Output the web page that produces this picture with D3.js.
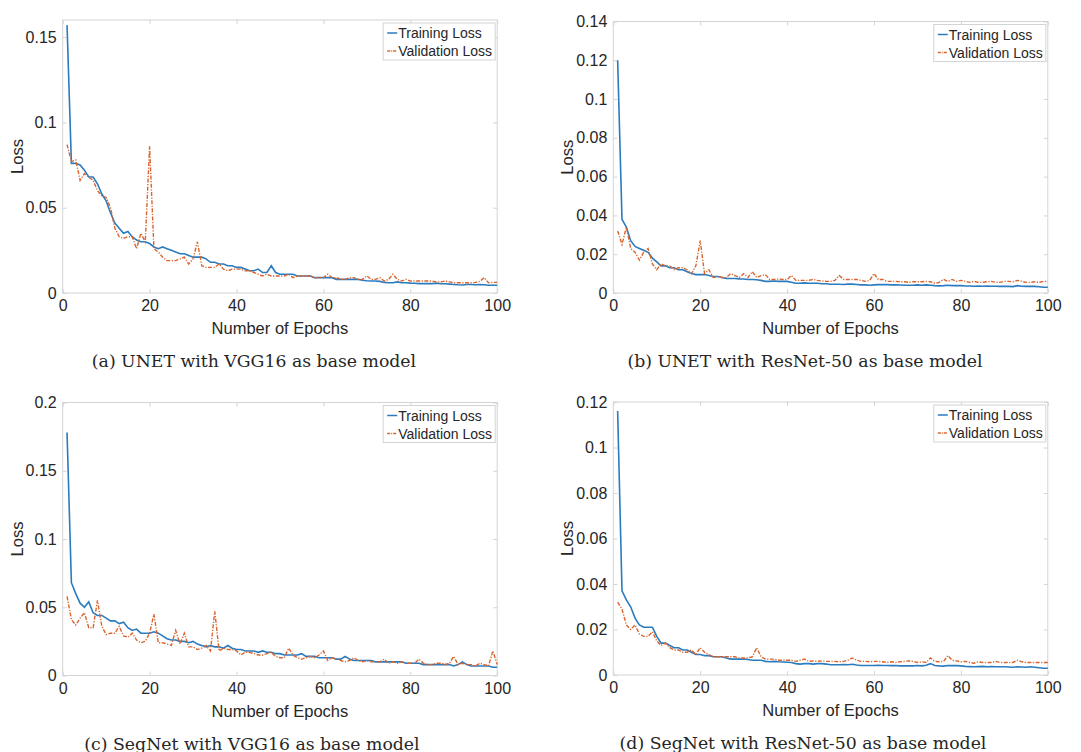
<!DOCTYPE html>
<html>
<head>
<meta charset="utf-8">
<script src="https://cdn.jsdelivr.net/npm/d3@7"></script>
<style>
  body { margin: 0; background: #fff; }
  svg { display: block; }
</style>
</head>
<body>
<script>
// four loss curves, 100 epochs each, MATLAB-ish look

const epochs = d3.range(1, 101);
const xTicks = [0, 20, 40, 60, 80, 100];
const seriesNames = ["Training Loss", "Validation Loss"];

// (a) UNET + VGG16
const trainA = [
  .157,.076,.076,.075,.072,.068,.068,.064,.058,.054,
  .047,.041,.038,.035,.036,.033,.031,.030,.030,.029,
  .027,.026,.027,.026,.025,.024,.023,.023,.022,.021,
  .021,.021,.020,.018,.018,.017,.017,.016,.016,.015,
  .015,.014,.013,.013,.014,.012,.012,.016,.012,.011,
  .011,.011,.011,.010,.010,.010,.010,.009,.009,.009,
  .009,.009,.008,.008,.008,.008,.008,.008,.0075,.0072,
  .007,.007,.0068,.0062,.006,.006,.0065,.006,.006,.0058,
  .0057,.0055,.0055,.0055,.0055,.0058,.0054,.0054,.0052,.005,
  .0048,.0047,.005,.005,.0048,.005,.0048,.0045,.0045,.0045
];
const valA = [
  .087,.077,.078,.066,.070,.068,.066,.060,.057,.056,
  .050,.038,.033,.032,.033,.033,.026,.035,.030,.086,
  .026,.024,.021,.019,.019,.019,.020,.021,.017,.020,
  .030,.016,.015,.015,.015,.017,.014,.013,.014,.014,
  .014,.013,.013,.012,.011,.010,.011,.010,.010,.010,
  .010,.011,.009,.010,.010,.010,.010,.009,.009,.009,
  .011,.009,.009,.008,.008,.009,.009,.008,.008,.010,
  .008,.008,.009,.007,.008,.011,.008,.007,.008,.007,
  .007,.007,.007,.007,.007,.0065,.0065,.007,.0065,.006,
  .006,.006,.006,.006,.0062,.0068,.009,.006,.0062,.0062
];

// (b) UNET + ResNet-50
const trainB = [
  .120,.038,.034,.027,.024,.023,.022,.021,.018,.016,
  .014,.014,.013,.013,.012,.012,.011,.010,.0095,.0095,
  .0095,.009,.0085,.0085,.008,.0075,.0075,.0075,.0073,.0072,
  .007,.007,.0068,.0065,.006,.006,.0062,.006,.006,.006,
  .0055,.005,.005,.0052,.005,.005,.005,.0048,.0048,.0045,
  .0045,.0045,.0044,.0046,.0046,.0044,.0042,.0042,.004,.0042,
  .0043,.0043,.0043,.0042,.0042,.0041,.004,.004,.004,.0042,
  .004,.0042,.004,.0038,.0037,.0038,.004,.0038,.0038,.0038,
  .0036,.0036,.0035,.0036,.0035,.0036,.0035,.0035,.0034,.0035,
  .0034,.0033,.0038,.0035,.0034,.0035,.0034,.0032,.003,.003
];
const valB = [
  .032,.025,.034,.023,.021,.017,.021,.023,.015,.012,
  .015,.014,.014,.012,.013,.013,.012,.010,.014,.027,
  .010,.012,.008,.0085,.008,.008,.010,.009,.008,.010,
  .008,.011,.008,.009,.0095,.007,.007,.0072,.007,.007,
  .009,.0065,.0065,.0065,.0065,.007,.0065,.0062,.006,.006,
  .0065,.009,.007,.007,.007,.007,.0065,.006,.0065,.010,
  .007,.007,.006,.006,.006,.0058,.0058,.0055,.0058,.0058,
  .0058,.006,.0058,.005,.0055,.007,.006,.007,.006,.0065,
  .006,.0055,.006,.0055,.0055,.0058,.006,.0055,.0055,.006,
  .006,.0058,.0065,.006,.0055,.0055,.0058,.0055,.006,.006
];

// (c) SegNet + VGG16
const trainC = [
  .178,.068,.060,.053,.050,.054,.046,.044,.044,.042,
  .040,.040,.038,.039,.035,.033,.034,.031,.031,.031,
  .032,.031,.029,.027,.026,.026,.025,.025,.024,.025,
  .023,.022,.021,.022,.021,.021,.020,.022,.020,.019,
  .019,.018,.018,.018,.017,.018,.017,.017,.016,.016,
  .015,.015,.015,.015,.016,.014,.014,.014,.013,.013,
  .013,.013,.012,.012,.014,.012,.011,.011,.011,.011,
  .011,.010,.010,.010,.010,.010,.010,.010,.009,.009,
  .009,.009,.008,.008,.008,.008,.008,.008,.008,.007,
  .008,.010,.008,.007,.007,.007,.007,.007,.006,.006
];
const valC = [
  .058,.041,.037,.042,.046,.035,.035,.055,.036,.030,
  .031,.031,.036,.029,.028,.031,.026,.024,.025,.031,
  .045,.024,.024,.023,.022,.033,.023,.031,.021,.021,
  .019,.020,.022,.018,.047,.018,.020,.019,.019,.018,
  .015,.017,.017,.016,.015,.015,.016,.017,.014,.013,
  .013,.020,.015,.013,.012,.013,.014,.013,.015,.018,
  .011,.013,.012,.011,.010,.011,.013,.011,.010,.011,
  .010,.010,.010,.012,.009,.010,.009,.010,.009,.009,
  .009,.012,.009,.008,.008,.009,.009,.008,.009,.014,
  .008,.009,.008,.008,.007,.009,.008,.007,.018,.008
];

// (d) SegNet + ResNet-50
const trainD = [
  .116,.037,.033,.030,.025,.022,.021,.021,.021,.017,
  .014,.014,.013,.012,.012,.011,.011,.010,.009,.009,
  .0085,.0085,.008,.008,.008,.0075,.007,.007,.007,.007,
  .0068,.0065,.0065,.0065,.006,.0058,.006,.0058,.0057,.0056,
  .0055,.005,.0048,.005,.005,.0048,.005,.005,.0048,.0045,
  .0045,.0045,.0046,.0045,.0047,.0044,.0042,.0042,.0042,.0042,
  .0043,.0042,.0042,.0041,.0042,.004,.004,.004,.004,.0042,
  .004,.0043,.005,.0042,.004,.0039,.0042,.0041,.0041,.004,
  .0038,.0037,.0036,.0037,.0038,.0036,.0037,.0036,.0036,.0036,
  .0035,.0034,.0036,.0035,.0034,.0036,.0034,.0032,.003,.003
];
const valD = [
  .032,.029,.022,.020,.022,.018,.017,.017,.019,.015,
  .013,.014,.012,.011,.011,.010,.010,.011,.009,.012,
  .010,.009,.008,.008,.008,.008,.008,.008,.0075,.0075,
  .0075,.008,.012,.008,.007,.007,.007,.0065,.0065,.0065,
  .0065,.006,.0065,.007,.006,.0062,.006,.0062,.006,.006,
  .006,.0058,.006,.0065,.0075,.0065,.006,.006,.0058,.006,
  .006,.0058,.0055,.0058,.0055,.0058,.006,.0062,.006,.0055,
  .0058,.0055,.0075,.006,.0058,.006,.0085,.0065,.0062,.0058,
  .006,.0055,.0052,.0058,.0055,.0055,.0055,.006,.0055,.0055,
  .0055,.0055,.0065,.0058,.0055,.0055,.0055,.0055,.0055,.0055
];

const yTicksA = [0, 0.05, 0.1, 0.15];
const yTicksB = [0, 0.02, 0.04, 0.06, 0.08, 0.1, 0.12, 0.14];
const yTicksC = [0, 0.05, 0.1, 0.15, 0.2];
const yTicksD = [0, 0.02, 0.04, 0.06, 0.08, 0.1, 0.12];

const captions = [
  "(a) UNET with VGG16 as base model",
  "(b) UNET with ResNet-50 as base model",
  "(c) SegNet with VGG16 as base model",
  "(d) SegNet with ResNet-50 as base model"
];

const blue = "#2b7bbf", orange = "#d9642e";
const boxColor = "#d4d4d4", textColor = "#262626";
const sans = "'Liberation Sans', Arial, Helvetica, sans-serif";

const svg = d3.select("body").append("svg")
    .attr("width", 1081)
    .attr("height", 752)
    .style("background", "#fff");

function drawPanel(p) {
    let x = d3.scaleLinear().domain([0, 100]).range([p.left, p.left + 434.5]);
    let y = d3.scaleLinear().domain([0, p.yMax]).range([p.bottom, p.top]);
    let g = svg.append("g");

    // box
    g.append("rect")
        .attr("x", x(0)).attr("y", y(p.yMax))
        .attr("width", x(100) - x(0)).attr("height", y(0) - y(p.yMax))
        .attr("fill", "none").attr("stroke", boxColor).attr("stroke-width", 1);

    // inward ticks on all four sides
    let fmt = d => d === 0 ? "0" : String(+d.toFixed(2));
    let xb = g.append("g").attr("transform", `translate(0,${y(0)})`)
        .call(d3.axisBottom(x).tickValues(xTicks).tickSizeInner(-4).tickSizeOuter(0).tickPadding(7));
    let xt = g.append("g").attr("transform", `translate(0,${y(p.yMax)})`)
        .call(d3.axisTop(x).tickValues(xTicks).tickSizeInner(-4).tickSizeOuter(0).tickFormat(""));
    let yl = g.append("g").attr("transform", `translate(${x(0)},0)`)
        .call(d3.axisLeft(y).tickValues(p.yTicks).tickSizeInner(-4).tickSizeOuter(0).tickPadding(6).tickFormat(fmt));
    let yr = g.append("g").attr("transform", `translate(${x(100)},0)`)
        .call(d3.axisRight(y).tickValues(p.yTicks).tickSizeInner(-4).tickSizeOuter(0).tickFormat(""));
    [xb, xt, yl, yr].forEach(a => {
        a.select(".domain").remove();
        a.selectAll("line").attr("stroke", boxColor);
        a.selectAll("text").attr("fill", textColor).style("font-family", sans).style("font-size", "16px");
    });

    // curves
    let line = d3.line().x((d, i) => x(epochs[i])).y(d => y(d));
    g.append("path").datum(p.train)
        .attr("d", line).attr("fill", "none")
        .attr("stroke", blue).attr("stroke-width", 1.6);
    g.append("path").datum(p.val)
        .attr("d", line).attr("fill", "none")
        .attr("stroke", orange).attr("stroke-width", 1.4)
        .attr("stroke-dasharray", "4,1.5,1.2,1.5");

    // axis labels
    g.append("text")
        .text("Number of Epochs")
        .attr("x", (x(0) + x(100)) / 2).attr("y", y(0) + 41)
        .attr("text-anchor", "middle")
        .style("font-family", sans).style("font-size", "16.5px").attr("fill", textColor);
    g.append("text")
        .text("Loss")
        .attr("transform", `translate(${p.left - 40},${(p.top + p.bottom) / 2}) rotate(-90)`)
        .attr("text-anchor", "middle")
        .style("font-family", sans).style("font-size", "16.5px").attr("fill", textColor);

    // legend
    let lx = x(100) - 114, ly = y(p.yMax) + 3;
    g.append("rect")
        .attr("x", lx).attr("y", ly).attr("width", 112).attr("height", 37)
        .attr("fill", "#fff").attr("stroke", boxColor);
    seriesNames.forEach((name, i) => {
        let yy = ly + 10 + i * 18;
        g.append("line")
            .attr("x1", lx + 4).attr("x2", lx + 14).attr("y1", yy).attr("y2", yy)
            .attr("stroke", i === 0 ? blue : orange).attr("stroke-width", 1.5)
            .attr("stroke-dasharray", i === 0 ? null : "3,1,1,1");
        g.append("text")
            .text(name)
            .attr("x", lx + 15).attr("y", yy + 5)
            .style("font-family", sans).style("font-size", "14px").attr("fill", textColor);
    });

    // caption
    g.append("text")
        .text(p.caption)
        .attr("x", p.capX).attr("y", p.bottom + 74)
        .attr("text-anchor", "middle")
        .style("font-family", "'DejaVu Serif', 'Liberation Serif', serif")
        .style("font-size", "17.3px").attr("fill", textColor);
}

drawPanel({left: 62.7, top: 20, bottom: 293, yMax: 0.16, yTicks: yTicksA,
           train: trainA, val: valA, caption: captions[0], capX: 254});
drawPanel({left: 613.3, top: 21.5, bottom: 293, yMax: 0.14, yTicks: yTicksB,
           train: trainB, val: valB, caption: captions[1], capX: 805});
drawPanel({left: 62.7, top: 402.5, bottom: 675.5, yMax: 0.2, yTicks: yTicksC,
           train: trainC, val: valC, caption: captions[2], capX: 252});
drawPanel({left: 613.3, top: 402, bottom: 675, yMax: 0.12, yTicks: yTicksD,
           train: trainD, val: valD, caption: captions[3], capX: 803});
</script>
</body>
</html>
